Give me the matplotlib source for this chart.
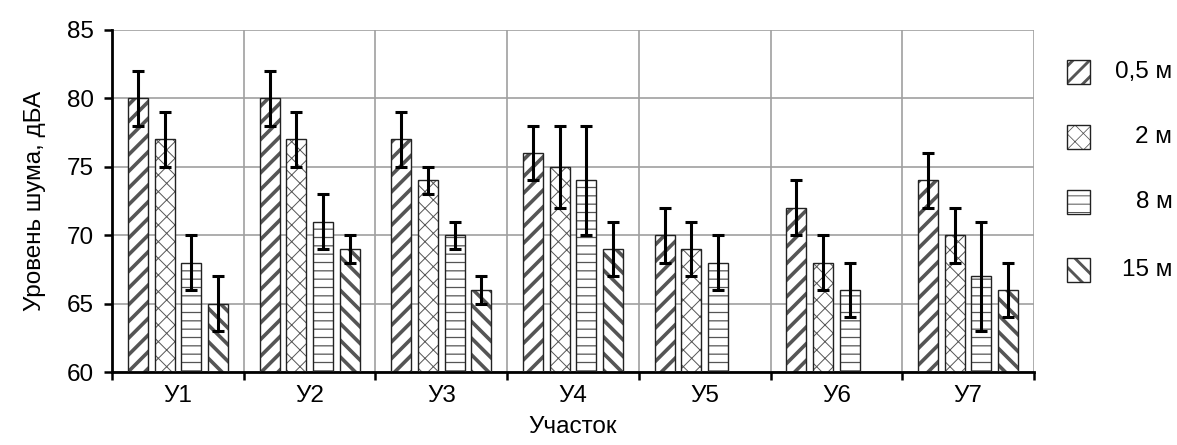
import numpy as np
import matplotlib
matplotlib.use("Agg")
import matplotlib.pyplot as plt
from matplotlib.patches import Rectangle

plt.rcParams['font.family'] = ['Liberation Sans', 'DejaVu Sans']

sites = ["У1", "У2", "У3", "У4", "У5", "У6", "У7"]
labels = ["0,5 м", "2 м", "8 м", "15 м"]
# noise level by distance, dBA (nan = no measurement)
d05 = [80, 80, 77, 76, 70, 72, 74]
d2 = [77, 77, 74, 75, 69, 68, 70]
d8 = [68, 71, 70, 74, 68, 66, 67]
d15 = [65, 69, 66, 69, np.nan, np.nan, 66]
e05 = [2, 2, 2, 2, 2, 2, 2]
e2 = [2, 2, 1, 3, 2, 2, 2]
e8 = [2, 2, 1, 4, 2, 2, 4]
e15 = [2, 1, 1, 2, 0, 0, 2]

series = [d05, d2, d8, d15]
errors = [e05, e2, e8, e15]
hatches = ["//", "xx", "--", "\\\\"]
hatch_lw = [2.6, 0.7, 0.9, 2.6]
fs = 17.5

fig = plt.figure(figsize=(11.77, 4.45), dpi=100)
ax = fig.add_axes([0.0952, 0.164, 0.7833, 0.7686])

x = np.arange(len(sites))
step = 0.2025
width = 0.152
for i, (vals, errs) in enumerate(zip(series, errors)):
    pos = x + (i - 1.5) * step
    with plt.rc_context({'hatch.linewidth': hatch_lw[i]}):
        ax.bar(pos, np.array(vals) - 60, width, bottom=60, color="white",
               edgecolor="#555555", linewidth=0, hatch=hatches[i], zorder=2)
    ax.bar(pos, np.array(vals) - 60, width, bottom=60, facecolor="none",
           edgecolor="#222222", linewidth=1.0, zorder=3)
    ax.errorbar(pos, vals, yerr=errs, fmt="none", ecolor="black",
                elinewidth=2.2, capsize=4, capthick=2.2, zorder=4)

ax.set_xlim(-0.5, len(sites) - 0.5)
ax.set_ylim(60, 85)
ax.set_yticks(range(60, 86, 5))
ax.set_xticks(np.arange(-0.5, len(sites), 1))
ax.set_xticklabels([])
ax.set_xticks(x, minor=True)
ax.set_xticklabels(sites, minor=True, fontsize=fs)
ax.tick_params(axis="x", which="minor", length=0, pad=9)
ax.tick_params(axis="x", which="major", length=6, width=1.8, direction="out")
ax.tick_params(axis="y", length=6, width=1.8, labelsize=fs, pad=7)
ax.grid(True, which="major", color="#a0a0a0", linewidth=1.2, zorder=0)
ax.set_axisbelow(True)
for s in ["top", "right"]:
    ax.spines[s].set_visible(False)
for s in ["left", "bottom"]:
    ax.spines[s].set_linewidth(2)
ax.set_ylabel("Уровень шума, дБА", fontsize=fs, labelpad=15)
ax.set_xlabel("Участок", fontsize=fs, labelpad=7)

# legend on the right side
leg_y = [0.838, 0.692, 0.545, 0.393]
for i, lab in enumerate(labels):
    y0 = leg_y[i]
    with plt.rc_context({'hatch.linewidth': hatch_lw[i] * 0.8}):
        fig.add_artist(Rectangle((0.9065, y0 - 0.026), 0.02, 0.053,
                                 transform=fig.transFigure, facecolor="white",
                                 edgecolor="#555555", linewidth=0,
                                 hatch=hatches[i]))
    fig.add_artist(Rectangle((0.9065, y0 - 0.026), 0.02, 0.053,
                             transform=fig.transFigure, facecolor="none",
                             edgecolor="#222222", linewidth=1.0))
    fig.text(0.996, y0, lab, ha="right", va="center", fontsize=fs)

fig.savefig("out.png", dpi=100)
